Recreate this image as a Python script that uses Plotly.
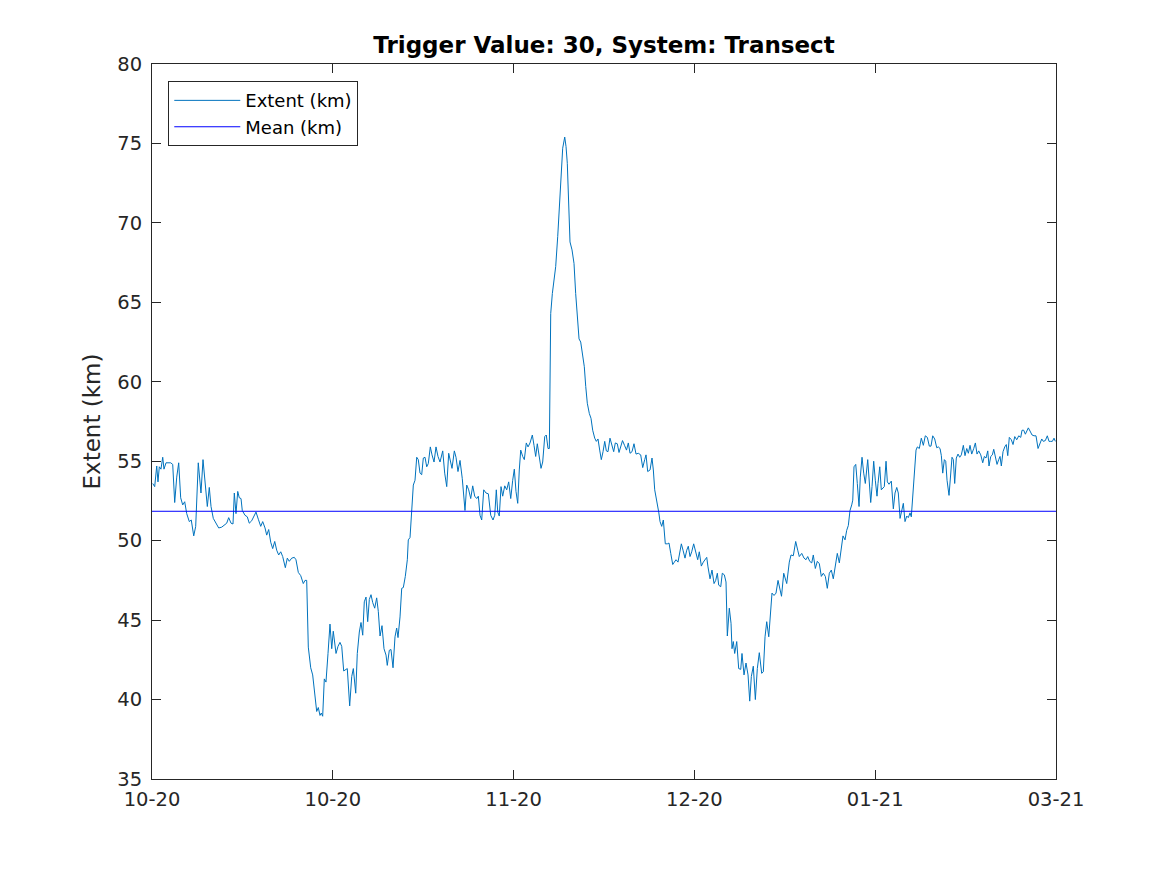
import pandas as pd
import plotly.graph_objects as go

# Time axis runs from 1 Oct 2020 to 1 Mar 2021; samples are days since start
start = pd.Timestamp("2020-10-01")
end = pd.Timestamp("2021-03-01")

days = [
    0.12, 0.45, 0.79, 1.00, 1.22, 1.50, 1.79, 2.00, 2.34, 2.72, 3.12, 3.46, 3.79, 4.13, 4.46, 4.79,
    5.13, 5.46, 5.80, 6.23, 6.56, 6.97, 7.30, 7.73, 8.18, 8.52, 8.90, 9.24, 9.57, 9.86, 10.24, 10.69,
    11.14, 11.64, 12.14, 12.48, 12.81, 13.20, 13.53, 13.75, 14.03, 14.32, 14.58, 14.87, 15.08, 15.53,
    15.92, 16.25, 16.65, 17.04, 17.37, 17.76, 18.16, 18.49, 18.88, 19.16, 19.49, 19.83, 20.16, 20.50,
    20.83, 21.16, 21.50, 21.83, 22.27, 22.60, 22.93, 23.34, 23.77, 24.05, 24.44, 24.84, 25.27, 25.56,
    25.84, 26.11, 26.51, 26.84, 27.23, 27.51, 27.78, 28.06, 28.28, 28.51, 28.78, 29.06, 29.40, 29.73,
    30.02, 30.28, 30.74, 31.07, 31.40, 31.69, 32.02, 32.36, 32.62, 33.02, 33.36, 33.63, 34.03, 34.29,
    34.63, 34.91, 35.20, 35.46, 35.75, 36.03, 36.30, 36.58, 36.87, 37.20, 37.53, 37.80, 38.09, 38.42,
    38.75, 39.09, 39.30, 39.64, 39.92, 40.26, 40.59, 40.87, 41.09, 41.43, 41.71, 41.98, 42.31, 42.65,
    42.81, 43.10, 43.38, 43.65, 43.93, 44.22, 44.48, 44.77, 45.05, 45.32, 45.60, 45.89, 46.15, 46.49,
    46.77, 47.11, 47.44, 47.77, 48.11, 48.56, 48.89, 49.23, 49.56, 49.83, 50.11, 50.50, 50.78, 51.11,
    51.45, 51.83, 52.28, 52.57, 52.90, 53.24, 53.57, 53.90, 54.24, 54.51, 54.79, 55.07, 55.41, 55.79,
    56.18, 56.58, 56.96, 57.25, 57.51, 57.75, 58.01, 58.30, 58.58, 58.92, 59.25, 59.58, 59.92, 60.25,
    60.52, 60.80, 61.09, 61.35, 61.59, 61.92, 62.19, 62.52, 62.81, 63.14, 63.53, 63.81, 64.09, 64.36,
    64.64, 64.98, 65.26, 65.60, 65.86, 66.15, 66.37, 66.60, 66.87, 67.10, 67.43, 67.77, 68.04, 68.32,
    68.60, 68.94, 69.16, 69.37, 69.61, 69.82, 70.16, 70.49, 70.77, 71.04, 71.33, 71.61, 71.88, 72.21,
    72.45, 72.71, 73.05, 73.33, 73.61, 73.95, 74.22, 74.50, 74.78, 75.05, 75.34, 75.62, 75.89, 76.17,
    76.50, 76.84, 77.12, 77.39, 77.72, 78.01, 78.29, 78.59, 78.93, 79.26, 79.56, 79.85, 80.18, 80.51,
    80.85, 81.23, 81.63, 81.97, 82.30, 82.52, 82.80, 83.19, 83.52, 83.74, 83.97, 84.31, 84.64, 84.86,
    85.14, 85.41, 85.74, 86.08, 86.36, 86.65, 86.98, 87.25, 87.53, 87.86, 88.15, 88.42, 88.70, 89.03,
    89.32, 89.58, 89.87, 90.15, 90.48, 90.82, 91.15, 91.42, 91.76, 92.09, 92.37, 92.66, 92.87, 93.21,
    93.54, 93.88, 94.16, 94.43, 94.66, 95.00, 95.26, 95.60, 95.88, 96.10, 96.43, 96.72, 96.88, 97.10,
    97.33, 97.67, 98.00, 98.34, 98.55, 98.89, 99.22, 99.56, 99.84, 100.11, 100.44, 100.78, 101.11,
    101.44, 101.84, 102.11, 102.40, 102.68, 103.02, 103.35, 103.56, 103.90, 104.23, 104.57, 104.78,
    105.15, 105.52, 106.02, 106.45, 106.74, 107.12, 107.52, 107.86, 108.12, 108.53, 108.91, 109.24,
    109.53, 109.86, 110.20, 110.46, 110.80, 111.13, 111.47, 111.80, 112.13, 112.47, 112.80, 113.14,
    113.47, 113.80, 114.14, 114.47, 114.81, 115.14, 115.42, 115.76, 116.04, 116.31, 116.59, 116.88,
    117.05, 117.26, 117.55, 117.81, 118.10, 118.31, 118.60, 118.88, 119.15, 119.55, 119.77, 120.05,
    120.27, 120.55, 120.82, 121.10, 121.27, 121.56, 121.82, 122.11, 122.32, 122.61, 122.83, 123.11,
    123.49, 123.83, 124.11, 124.40, 124.66, 124.95, 125.23, 125.50, 125.78, 126.07, 126.33, 126.62,
    126.83, 127.17, 127.40, 127.62, 127.84, 128.17, 128.50, 128.84, 129.17, 129.51, 129.84, 130.12,
    130.41, 130.74, 131.08, 131.34, 131.63, 131.85, 132.08, 132.35, 132.58, 132.80, 133.13, 133.42,
    133.63, 133.85, 134.08, 134.35, 134.63, 134.92, 135.19, 135.52, 135.80, 136.09, 136.36, 136.64,
    136.92, 137.26, 137.53, 137.81, 138.09, 138.43, 138.76, 139.03, 139.31, 139.60, 139.81, 140.10,
    140.37, 140.60, 140.87, 141.15, 141.43, 141.65, 141.87, 142.15, 142.44, 142.70, 142.94, 143.20,
    143.54, 143.82, 144.11, 144.44, 144.78, 145.11, 145.32, 145.61, 145.88, 146.11, 146.38, 146.66,
    147.00, 147.33, 147.66, 148.00, 148.28, 148.62, 148.88, 149.22, 149.55, 149.83, 150.12, 150.39,
    150.67, 150.89,
]

extent_km = [
    53.6, 53.4, 54.7, 53.7, 54.65, 54.5, 55.25, 54.5, 54.9, 54.9, 54.9, 54.8, 52.4, 54.0, 54.9, 52.7,
    52.25, 52.45, 51.7, 51.2, 51.3, 50.3, 50.9, 54.9, 53.0, 55.1, 53.4, 52.15, 53.35, 52.15, 51.4, 51.1,
    50.8, 50.85, 51.0, 51.1, 51.45, 51.1, 51.05, 53.0, 51.7, 53.1, 52.7, 52.65, 51.9, 51.6,
    51.5, 51.1, 51.25, 51.55, 51.8, 51.35, 50.9, 51.2, 50.8, 50.35, 50.7, 49.9, 49.5, 49.95,
    49.4, 49.1, 49.3, 49.0, 48.3, 48.9, 48.7, 48.9, 48.95, 48.8, 48.0, 47.8, 47.3, 47.5,
    47.5, 43.3, 42.0, 41.55, 40.4, 39.25, 39.5, 39.0, 39.15, 38.95, 41.3, 41.1, 42.9, 44.75,
    43.2, 44.3, 42.9, 43.35, 43.6, 43.35, 41.8, 41.9, 41.95, 39.6, 41.45, 41.95, 40.4, 42.9,
    44.25, 44.85, 44.05, 46.15, 46.45, 44.9, 46.3, 46.6, 46.1, 45.75, 46.4, 45.55, 44.0, 44.65,
    43.2, 42.8, 42.15, 43.1, 43.15, 42.0, 43.95, 44.5, 43.9, 45.2, 47.0, 47.05, 47.75, 48.8,
    50.05, 50.2, 51.8, 53.5, 53.8, 55.25, 55.1, 54.25, 54.15, 55.2, 55.25, 54.65, 54.85, 55.9,
    55.4, 54.95, 55.9, 55.3, 54.95, 55.65, 54.25, 53.4, 55.5, 55.1, 54.55, 55.65, 55.25, 54.35,
    55.05, 53.9, 51.9, 53.5, 53.2, 52.65, 53.45, 52.8, 52.65, 52.8, 51.6, 51.3, 53.2, 53.0,
    52.95, 51.6, 51.3, 51.6, 53.2, 51.8, 51.55, 53.4, 52.8, 53.45, 53.2, 53.7, 52.65, 53.8,
    54.5, 53.1, 52.35, 54.45, 55.7, 55.3, 55.1, 56.15, 55.9, 56.15, 56.65, 56.0, 55.3, 56.1,
    55.5, 54.55, 54.95, 56.55, 56.65, 55.8, 55.8, 64.3, 65.55, 66.4, 67.25, 69.15, 71.25, 72.9,
    74.7, 75.4, 74.8, 73.75, 71.25, 68.8, 68.3, 67.45, 65.55, 63.9, 62.7, 62.5, 61.8, 60.95,
    59.7, 58.65, 58.0, 57.7, 56.95, 56.45, 56.25, 56.4, 55.7, 55.1, 55.6, 56.25, 55.65, 55.6,
    56.45, 56.0, 55.6, 56.15, 56.1, 55.55, 55.95, 56.3, 56.0, 55.7, 56.15, 55.5, 55.6, 56.1,
    55.45, 55.5, 55.4, 54.6, 55.1, 55.4, 54.35, 54.45, 55.2, 54.45, 53.2, 52.55, 51.8, 51.2,
    50.9, 51.3, 49.8, 49.8, 49.85, 49.2, 48.5, 48.65, 48.8, 48.65, 49.3, 49.8, 49.4, 48.9,
    49.4, 49.65, 49.0, 49.3, 49.8, 49.2, 48.8, 49.3, 48.4, 48.65, 48.8, 48.95, 48.35, 47.6,
    48.15, 47.3, 47.5, 47.95, 47.2, 47.1, 47.95, 47.85, 47.4, 44.0, 45.75, 44.8, 43.2, 43.65,
    42.9, 43.65, 41.95, 41.9, 42.9, 41.55, 42.3, 41.55, 39.9, 41.45, 42.1, 40.0, 41.95,
    42.95, 41.65, 41.75, 43.95, 44.9, 43.95, 45.85, 46.7, 46.55, 46.7, 47.5, 47.1,
    46.5, 47.95, 47.3, 48.65, 49.1, 49.05, 49.95, 49.4, 49.0, 49.2, 48.9, 48.8,
    49.0, 48.7, 48.6, 49.1, 48.25, 48.7, 48.55, 47.75, 47.95, 47.75, 47.0, 47.95,
    48.15, 47.6, 48.6, 49.2, 48.6, 49.6, 50.3, 50.05, 50.65, 50.95, 51.9, 52.25,
    52.55, 54.65, 54.8, 53.6, 52.15, 54.0, 55.25, 54.25, 53.6, 55.1, 54.0, 52.4,
    53.4, 55.0, 53.8, 52.8, 53.6, 54.65, 53.2, 53.35, 53.4, 55.0, 53.7, 53.55,
    53.75, 52.0, 53.0, 53.35, 53.0, 51.4, 51.8, 52.35, 51.2, 51.55, 51.45, 51.75,
    51.5, 53.4, 54.45, 55.7, 55.9, 55.8, 56.45, 56.0, 56.6, 56.5, 55.95, 55.95,
    56.6, 56.4, 55.85, 55.9, 55.8, 55.35, 54.25, 55.1, 55.0, 53.8, 52.85, 54.25,
    55.25, 55.1, 53.6, 55.2, 55.45, 55.25, 55.4, 56.0, 55.35, 55.8, 55.5, 56.0,
    55.45, 55.8, 56.15, 55.45, 55.65, 55.4, 54.9, 55.3, 55.2, 55.65, 54.7, 55.3,
    55.4, 55.75, 55.25, 54.8, 55.1, 55.3, 54.7, 55.6, 55.9, 56.05, 55.35, 56.5,
    56.35, 56.05, 56.55, 56.35, 56.6, 56.5, 56.95, 56.95, 56.7, 56.85, 57.1, 56.9,
    56.65, 56.6, 56.6, 55.8, 56.05, 56.4, 56.25, 56.3, 56.6, 56.25, 56.25, 56.25,
    56.45, 56.25,
]

mean_km = 51.85

x_tick_labels = ["10-20", "10-20", "11-20", "12-20", "01-21", "03-21"]
y_ticks = [35, 40, 45, 50, 55, 60, 65, 70, 75, 80]

times = start + pd.to_timedelta(days, unit="D")
x_ticks = pd.date_range(start, end, periods=len(x_tick_labels))

fig = go.Figure()

fig.add_trace(go.Scatter(x=times, y=extent_km, mode="lines", name="Extent (km)",
                         line=dict(color="#0072BD", width=1)))
fig.add_trace(go.Scatter(x=[start, end], y=[mean_km, mean_km], mode="lines", name="Mean (km)",
                         line=dict(color="#0000FF", width=1)))

axis_style = dict(showline=True, linecolor="#262626", linewidth=1, mirror="ticks",
                  ticks="inside", ticklen=9, tickcolor="#262626", showgrid=False,
                  zeroline=False, tickfont=dict(size=19.5, color="#262626"))

fig.update_xaxes(type="date", range=[start, end], tickvals=x_ticks, ticktext=x_tick_labels,
                 ticklabelstandoff=3, **axis_style)
fig.update_yaxes(range=[35, 80], tickvals=y_ticks, ticklabelstandoff=5,
                 title=dict(text="Extent (km)", font=dict(size=23, color="#262626"), standoff=10),
                 **axis_style)

# page body adds an 8px offset, margins compensate so the axes box lands where it should
fig.update_layout(
    width=1167, height=875,
    margin=dict(l=144, r=119, t=56, b=104),
    paper_bgcolor="white", plot_bgcolor="white",
    font=dict(family="DejaVu Sans", color="#262626"),
    title=dict(text="<b>Trigger Value: 30, System: Transect</b>", x=0.5, xref="paper",
               y=1 - 37 / 875, yanchor="middle", font=dict(size=23, color="black")),
    legend=dict(x=0.018, y=0.976, xanchor="left", yanchor="top", bgcolor="white",
                bordercolor="#262626", borderwidth=1, itemwidth=66,
                font=dict(size=18, color="black")),
    showlegend=True,
)

fig.write_html("out.html")
